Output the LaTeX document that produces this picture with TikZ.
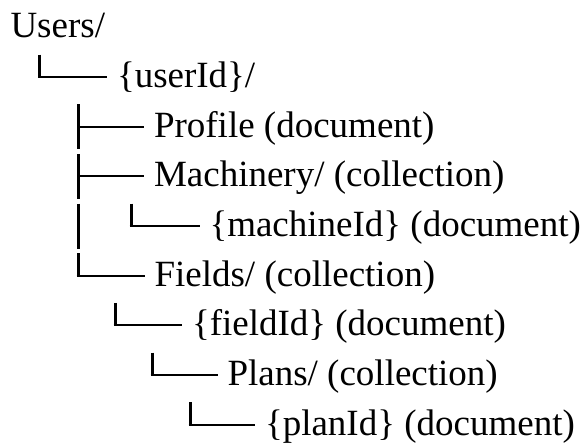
\documentclass[tikz,border=0pt]{standalone}
\usepackage{fontspec}
\setmainfont{Liberation Serif}
\begin{document}
\begin{tikzpicture}[x=1pt,y=-1pt]
\tikzset{
  entry/.style={anchor=base west, inner sep=0pt, outer sep=0pt,
                font=\fontsize{37}{44}\selectfont},
  stem/.style={line width=3pt, line cap=butt},
  arm/.style={line width=2pt, line cap=butt, shorten <=-1.5pt, shorten >=10pt},
}
\useasboundingbox (0,0) rectangle (585,443);

% tree entries, one per line
\node[entry] (users)     at (10.5,38)     {Users/};
\node[entry] (user)      at (117,87.65)   {\{userId\}/};
\node[entry] (profile)   at (154,137.3)   {Profile (document)};
\node[entry] (machinery) at (154,187)     {Machinery/ (collection)};
\node[entry] (machine)   at (209.5,236.6) {\{machineId\} (document)};
\node[entry] (fields)    at (154.5,286.25){Fields/ (collection)};
\node[entry] (field)     at (192,335.9)   {\{fieldId\} (document)};
\node[entry] (plans)     at (227.5,385.55){Plans/ (collection)};
\node[entry] (plan)      at (265,435.2)   {\{planId\} (document)};

% elbow corners and stem ends
\coordinate (t2) at (39.5,54.65);  \coordinate (k2) at (39.5,77.15);
\coordinate (t3) at (78,104.3);    \coordinate (k3) at (78,126.8);   \coordinate (b3) at (78,149.3);
\coordinate (t4) at (78,154);      \coordinate (k4) at (78,176.5);   \coordinate (b4) at (78,199);
\coordinate (t5) at (78,203.6);    \coordinate (b5) at (78,248.6);
\coordinate (u5) at (131,203.6);   \coordinate (k5) at (131,226.1);
\coordinate (t6) at (78,253.25);   \coordinate (k6) at (78,275.75);
\coordinate (t7) at (115,302.9);   \coordinate (k7) at (115,325.4);
\coordinate (t8) at (152,352.55);  \coordinate (k8) at (152,375.05);
\coordinate (t9) at (190,402.2);   \coordinate (k9) at (190,424.7);

% vertical strokes
\draw[stem, shorten >=-1pt] (t2) -- (k2);
\draw[stem] (t3) -- (b3);
\draw[stem] (t4) -- (b4);
\draw[stem] (t5) -- (b5);
\draw[stem, shorten >=-1pt] (u5) -- (k5);
\draw[stem, shorten >=-1pt] (t6) -- (k6);
\draw[stem, shorten >=-1pt] (t7) -- (k7);
\draw[stem, shorten >=-1pt] (t8) -- (k8);
\draw[stem, shorten >=-1pt] (t9) -- (k9);

% horizontal strokes up to each entry
\draw[arm] (k2) -- (k2 -| user.west);
\draw[arm, shorten <=0pt] (k3) -- (k3 -| profile.west);
\draw[arm, shorten <=0pt] (k4) -- (k4 -| machinery.west);
\draw[arm] (k5) -- (k5 -| machine.west);
\draw[arm] (k6) -- (k6 -| fields.west);
\draw[arm] (k7) -- (k7 -| field.west);
\draw[arm] (k8) -- (k8 -| plans.west);
\draw[arm] (k9) -- (k9 -| plan.west);
\end{tikzpicture}
\end{document}
